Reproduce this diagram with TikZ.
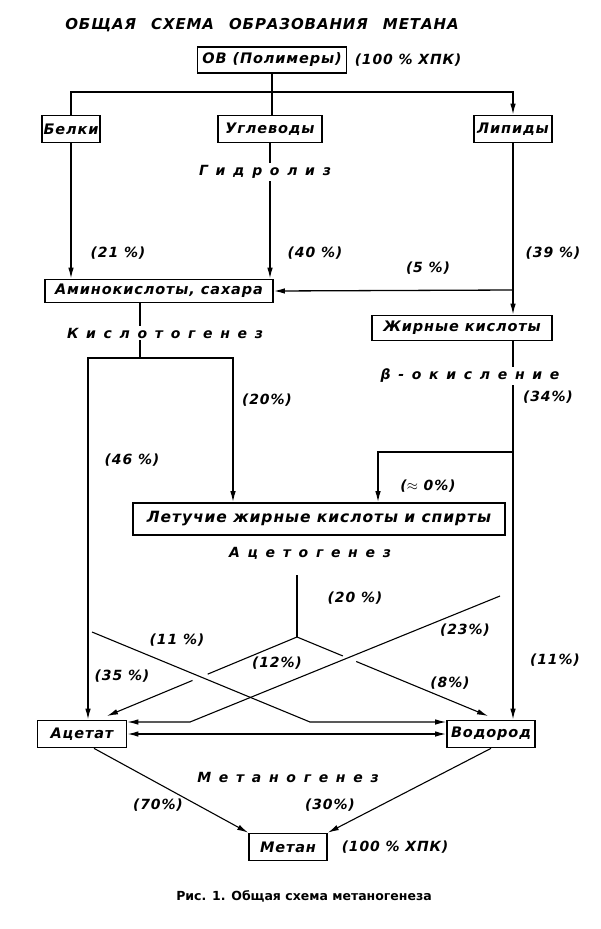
\documentclass[tikz,border=0pt]{standalone}
\usepackage{fontspec}
\setmainfont{DejaVu Sans}
\newfontfamily\boxfont[LetterSpace=6]{DejaVu Sans}
\newfontfamily\stagefont[LetterSpace=55]{DejaVu Sans}
\usetikzlibrary{arrows.meta,calc}

\begin{document}
\begin{tikzpicture}[
	x=1pt, y=-1pt,
	line width=1.3pt,
	>={Latex[length=11pt,width=5.5pt]},
	box/.style={ draw, line width=1.7pt, inner sep=0pt, minimum height=27pt, font=\boxfont\bfseries\itshape\fontsize{14.5}{17}\selectfont },
	pct/.style={ inner sep=1pt, font=\boxfont\bfseries\itshape\fontsize{14}{17}\selectfont },
	stage/.style={ fill=white, inner sep=2pt, font=\stagefont\bfseries\itshape\fontsize{14}{17}\selectfont },
	slant/.style={ line width=1.1pt }
]
\useasboundingbox (0,0) rectangle (601,929);

\node at (262,25) (title) [font=\boxfont\itshape\bfseries\fontsize{15}{18}\selectfont] {ОБЩАЯ\quad СХЕМА\quad ОБРАЗОВАНИЯ\quad МЕТАНА};

% hydrolysis
\node at (272,60) (ov) [box, minimum width=149pt, minimum height=26pt] {ОВ (Полимеры)};
\node at (408,60) (ovpct) [pct] {(100 \% ХПК)};
\node at (71,129) (belki) [box, minimum width=58pt] {Белки};
\node at (270,129) (uglev) [box, minimum width=104pt] {Углеводы};
\node at (513,129) (lipid) [box, minimum width=78pt] {Липиды};
\coordinate (hr) at (513,92);
\draw (ov.south) -- (ov.south |- uglev.north);
\draw[->] (belki.north) |- (hr) -- (lipid.north);

\node at (159,291) (amino) [box, minimum width=228pt, minimum height=23pt] {Аминокислоты, сахара};
\node at (462,328) (zhir) [box, minimum width=180pt, minimum height=25pt] {Жирные кислоты};
\foreach \p in {belki,uglev} \draw[->] (\p.south) -- (\p.south |- amino.north);
\draw[->] (lipid.south) -- (lipid.south |- zhir.north);
\coordinate (b5) at (513,290);
\draw[->] (b5) -- (amino.east);
\node at (118,253) (p21) [pct] {(21 \%)};
\node at (315,253) (p40) [pct] {(40 \%)};
\node at (428,268) (p5) [pct] {(5 \%)};
\node at (553,253) (p39) [pct] {(39 \%)};

% acidogenesis
\node at (319,519) (letuch) [box, minimum width=372pt, minimum height=32pt, font=\boxfont\bfseries\itshape\fontsize{15.5}{18}\selectfont] {Летучие жирные кислоты и спирты};
\node at (82,734) (acet) [box, minimum width=89pt] {Ацетат};
\node at (491,734) (vodor) [box, minimum width=88pt] {Водород};
\coordinate (ks) at (140,358);
\coordinate (kl) at (88,358);
\coordinate (kr) at (233,358);
\draw (amino.south -| ks) -- (ks);
\draw[->] (ks) -- (kl) -- (kl |- acet.north);
\draw[->] (ks) -- (kr) -- (kr |- letuch.north);
\draw[->] (zhir.south -| hr) -- (vodor.north -| hr);
\coordinate (b0) at (513,452);
\coordinate (b0l) at (378,452);
\draw[->] (b0) -- (b0l) -- (b0l |- letuch.north);
\node at (267,400) (p20a) [pct] {(20\%)};
\node at (132,460) (p46) [pct] {(46 \%)};
\node at (548,397) (p34) [pct] {(34\%)};
\node at (428,486) (p0) [pct] {($\approx$ 0\%)};

% acetogenesis
\coordinate (as) at (297,575);
\coordinate (aj) at (297,637);
\coordinate (a12) at (107,716);
\coordinate (h8) at (488,716);
\coordinate (h11s) at (92,632);
\coordinate (h11k) at (310,722);
\coordinate (a23s) at (500,596);
\coordinate (a23k) at (190,722);
\draw (as) -- (aj);
\draw[slant] (aj) -- ($(aj)!0.47!(a12)$);
\draw[slant,->] ($(aj)!0.55!(a12)$) -- (a12);
\draw[slant] (aj) -- ($(aj)!0.24!(h8)$);
\draw[slant,->] ($(aj)!0.31!(h8)$) -- (h8);
\draw[slant,->] (h11s) -- (h11k) -- (vodor.west |- h11k);
\draw[slant,->] (a23s) -- (a23k) -- (acet.east |- a23k);
\draw[<->] (acet.east) -- (vodor.west);
\node at (355,598) (p20b) [pct] {(20 \%)};
\node at (177,640) (p11a) [pct] {(11 \%)};
\node at (122,676) (p35) [pct] {(35 \%)};
\node at (277,663) (p12) [pct] {(12\%)};
\node at (465,630) (p23) [pct] {(23\%)};
\node at (450,683) (p8) [pct] {(8\%)};
\node at (555,660) (p11b) [pct] {(11\%)};

% methanogenesis
\node at (288,847) (metan) [box, minimum width=78pt] {Метан};
\node at (395,847) (metpct) [pct] {(100 \% ХПК)};
\draw[slant,->] ([xshift=12pt]acet.south) -- (metan.north west);
\draw[slant,->] (vodor.south) -- (metan.north east);
\node at (158,805) (p70) [pct] {(70\%)};
\node at (330,805) (p30) [pct] {(30\%)};

\node at (265,172) (gidr) [stage] {Гидролиз};
\node at (165,333) (kislot) [stage] {Кислотогенез};
\node at (470,376) (beta) [stage] {β-окисление};
\node at (310,553) (acetog) [stage] {Ацетогенез};
\node at (288,777) (metanog) [stage] {Метаногенез};

\node at (304,896) (caption) [font=\bfseries\fontsize{12.5}{15}\selectfont] {Рис. 1. Общая схема метаногенеза};

\end{tikzpicture}
\end{document}
